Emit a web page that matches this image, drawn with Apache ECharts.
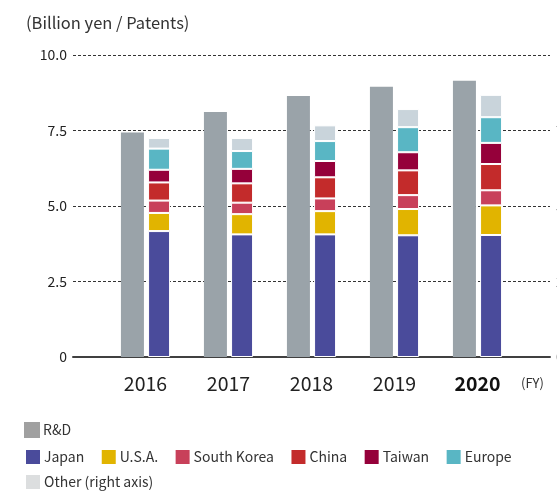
<!DOCTYPE html>
<html>
<head>
<meta charset="utf-8">
<script src="https://cdn.jsdelivr.net/npm/echarts@6/dist/echarts.min.js"></script>
<style>
  html, body { margin: 0; padding: 0; background: #fff; }
  #chart { width: 557px; height: 491px; }
</style>
</head>
<body>
<div id="chart"></div>
<script>
// data
const years = ['2016', '2017', '2018', '2019', '2020']
const rdValues = [7.43, 8.11, 8.64, 8.95, 9.15] // billion yen (left axis)
// patents (right axis)
const japan = [4170, 4060, 4060, 4030, 4040]
const usa = [600, 670, 770, 870, 980]
const southKorea = [410, 380, 420, 460, 500]
const china = [600, 640, 700, 820, 870]
const taiwan = [420, 480, 540, 600, 700]
const europe = [700, 590, 660, 830, 850]
const other = [350, 430, 520, 600, 740]
const leftTicks = [0, 10, 2.5]
const rightTicks = [0, 10000, 2500]

const font = 'Noto Sans CJK JP'
const chart = echarts.init(document.getElementById('chart'))

const patentSeries = [
  { name: 'Japan', data: japan, color: '#4a4b9b' },
  { name: 'U.S.A.', data: usa, color: '#e1b400' },
  { name: 'South Korea', data: southKorea, color: '#c8405a' },
  { name: 'China', data: china, color: '#c32b2b' },
  { name: 'Taiwan', data: taiwan, color: '#95003a' },
  { name: 'Europe', data: europe, color: '#59b6c4' },
  { name: 'Other (right axis)', data: other, color: '#c9d4db' }
]

const legendBase = {
  left: 24,
  padding: 0,
  itemWidth: 16,
  itemHeight: 16,
  itemGap: 15.5,
  icon: 'rect',
  selectedMode: false,
  textStyle: { fontFamily: font, fontSize: 14, color: '#333', padding: [0, 0, 0, -2] }
}

const gridBase = { top: 55, bottom: 134, outerBoundsMode: 'none', containLabel: false }

const option = {
  animation: false,
  textStyle: { fontFamily: font },
  title: {
    text: '(Billion yen / Patents)',
    left: 26,
    top: 14,
    padding: 0,
    textStyle: { fontFamily: font, fontSize: 16.5, fontWeight: 'normal', color: '#333' }
  },
  legend: [
    Object.assign({}, legendBase, {
      top: 422,
      data: [{ name: 'R&D', itemStyle: { color: '#a0a0a0' } }]
    }),
    Object.assign({}, legendBase, {
      top: 448,
      data: patentSeries.slice(0, 6).map(s => s.name)
    }),
    Object.assign({}, legendBase, {
      top: 473,
      data: [{ name: 'Other (right axis)', itemStyle: { color: '#dcdedf' } }]
    })
  ],
  grid: [
    // gridlines + axis labels
    Object.assign({}, gridBase, { left: 73, right: 7 }),
    // bars and year labels
    Object.assign({}, gridBase, { left: 104, right: 38 })
  ],
  xAxis: [
    {
      gridIndex: 0, type: 'category', data: years,
      axisLine: { lineStyle: { color: '#404040', width: 2 } },
      axisTick: { show: false }, axisLabel: { show: false }
    },
    {
      gridIndex: 1, type: 'category', data: years,
      axisLine: { show: false }, axisTick: { show: false },
      axisLabel: {
        interval: 0,
        margin: 17,
        fontSize: 19.5,
        color: '#222',
        formatter: (v) => v === '2020' ? '{b|' + v + '}' : v,
        rich: { b: { fontSize: 19.5, fontWeight: 'bold', color: '#111', fontFamily: font } }
      }
    }
  ],
  yAxis: [
    {
      gridIndex: 0, type: 'value', position: 'left',
      min: leftTicks[0], max: leftTicks[1], interval: leftTicks[2],
      axisLine: { show: false }, axisTick: { show: false },
      axisLabel: {
        margin: 6, fontSize: 14, color: '#222',
        formatter: (v) => v === 0 ? '0' : v.toFixed(1)
      },
      splitLine: { lineStyle: { color: '#333', width: 1, type: [3, 2] } }
    },
    {
      gridIndex: 0, type: 'value', position: 'right',
      min: rightTicks[0], max: rightTicks[1], interval: rightTicks[2],
      axisLine: { show: false }, axisTick: { show: false },
      axisLabel: { margin: 6, fontSize: 14, color: '#333' },
      splitLine: { show: false }
    },
    {
      gridIndex: 1, type: 'value', position: 'left',
      min: leftTicks[0], max: leftTicks[1], interval: leftTicks[2],
      show: false
    },
    {
      gridIndex: 1, type: 'value', position: 'right',
      min: rightTicks[0], max: rightTicks[1], interval: rightTicks[2],
      show: false
    }
  ],
  graphic: [
    {
      type: 'text', left: 521, top: 377,
      style: { text: '(FY)', fontFamily: font, fontSize: 13, fill: '#333' }
    }
  ],
  series: [
    {
      name: 'R&D',
      type: 'bar',
      xAxisIndex: 1,
      yAxisIndex: 2,
      barWidth: 23,
      barGap: '18%',
      itemStyle: { color: '#9aa3a9' },
      data: rdValues
    }
  ].concat(patentSeries.map(s => ({
    name: s.name,
    type: 'bar',
    xAxisIndex: 1,
    yAxisIndex: 3,
    stack: 'patents',
    barWidth: 22,
    barGap: '18%',
    itemStyle: { color: s.color, borderColor: '#fff', borderWidth: 1 },
    data: s.data
  })))
}

chart.setOption(option)
</script>
</body>
</html>
